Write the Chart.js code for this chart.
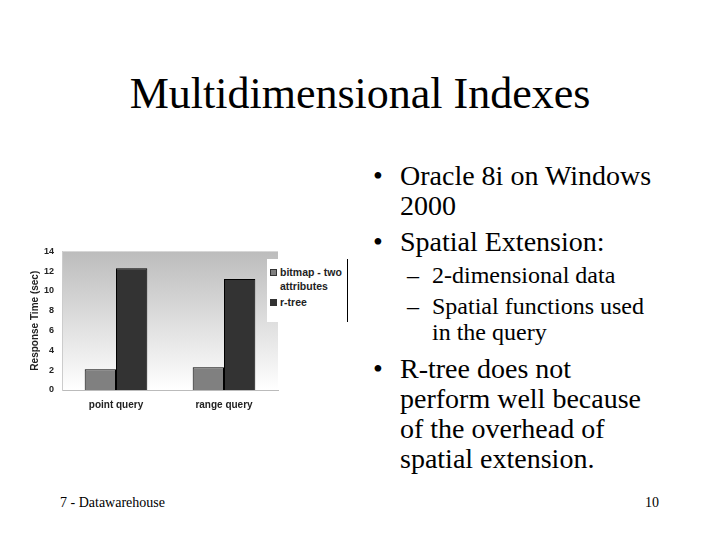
<!DOCTYPE html>
<html>
<head>
<meta charset="utf-8">
<script src="https://cdn.jsdelivr.net/npm/chart.js@4"></script>
<style>
  html, body { margin: 0; padding: 0; background: #fff; }
  #slide { position: relative; width: 720px; height: 540px; overflow: hidden; font-family: "Liberation Serif", "Times New Roman", serif; color: #000; }
  .t { position: absolute; white-space: nowrap; line-height: 1; }
  #title { left: 0; width: 720px; top: 72px; text-align: center; font-size: 44px; }
  .b1 { font-size: 28px; }
  .b2 { font-size: 24px; }
  .foot { font-size: 14px; top: 496px; }
  #chartBox { position: absolute; left: 20px; top: 238px; width: 265px; height: 182px; }
  #legend { position: absolute; left: 267px; top: 259px; width: 80px; height: 63px; background: #fff; border-right: 1px solid #000;
    font-family: "Liberation Sans", Arial, sans-serif; font-weight: bold; font-size: 10.5px; color: #222; }
  #legend .row { position: absolute; left: 3px; line-height: 14px; }
  #legend .sw { display: inline-block; width: 7px; height: 7px; border: 1px solid #333; margin-right: 3px; vertical-align: 0px; box-sizing: border-box; }
</style>
</head>
<body>
<div id="slide">
  <div class="t" id="title">Multidimensional Indexes</div>

  <div class="t b1" style="left:373px; top:162px;">•</div>
  <div class="t b1" style="left:400px; top:162px;">Oracle 8i on Windows</div>
  <div class="t b1" style="left:400px; top:192px;">2000</div>
  <div class="t b1" style="left:373px; top:228px;">•</div>
  <div class="t b1" style="left:400px; top:228px;">Spatial Extension:</div>
  <div class="t b2" style="left:407px; top:263px;">–</div>
  <div class="t b2" style="left:432px; top:263px;">2-dimensional data</div>
  <div class="t b2" style="left:407px; top:294px;">–</div>
  <div class="t b2" style="left:432px; top:294px;">Spatial functions used</div>
  <div class="t b2" style="left:432px; top:320px;">in the query</div>
  <div class="t b1" style="left:373px; top:355px;">•</div>
  <div class="t b1" style="left:400px; top:355px;">R-tree does not</div>
  <div class="t b1" style="left:400px; top:385px;">perform well because</div>
  <div class="t b1" style="left:400px; top:415px;">of the overhead of</div>
  <div class="t b1" style="left:400px; top:445px;">spatial extension.</div>

  <div class="t foot" style="left:60px;">7 - Datawarehouse</div>
  <div class="t foot" style="left:645px;">10</div>

  <div id="chartBox"><canvas id="chart" width="265" height="182"></canvas></div>
  <div id="legend"></div>
</div>

<script>
  var categories = ['point query', 'range query'];
  var seriesNames = ['bitmap - two attributes', 'r-tree'];
  var bitmapValues = [2.1, 2.3];
  var rtreeValues = [12.3, 11.2];
  var yTicks = [0, 2, 4, 6, 8, 10, 12, 14];
  var seriesColors = ['#808080', '#333333'];

  var bgPlugin = {
    id: 'plotBg',
    beforeDraw: function (chart) {
      var a = chart.chartArea;
      var ctx = chart.ctx;
      var g = ctx.createLinearGradient(0, a.top, 0, a.bottom);
      g.addColorStop(0, '#bcbcbc');
      g.addColorStop(1, '#ffffff');
      ctx.save();
      ctx.fillStyle = g;
      ctx.fillRect(a.left, a.top, a.right - a.left, a.bottom - a.top);
      ctx.restore();
    }
  };

  var tickFont = { family: 'Liberation Sans, Arial, sans-serif', size: 9, weight: 'bold' };
  var labelFont = { family: 'Liberation Sans, Arial, sans-serif', size: 10, weight: 'bold' };

  new Chart(document.getElementById('chart'), {
    type: 'bar',
    data: {
      labels: categories,
      datasets: [
        { label: seriesNames[0], data: bitmapValues, backgroundColor: seriesColors[0], borderColor: '#000', borderWidth: 1 },
        { label: seriesNames[1], data: rtreeValues, backgroundColor: seriesColors[1], borderColor: '#000', borderWidth: 1 }
      ]
    },
    options: {
      responsive: false,
      animation: false,
      layout: { padding: { top: 9, right: 7, left: 0, bottom: 0 } },
      plugins: { legend: { display: false }, tooltip: { enabled: false } },
      datasets: { bar: { barPercentage: 1, categoryPercentage: 0.58 } },
      scales: {
        x: {
          grid: { display: false, drawTicks: false },
          border: { display: true, color: '#bbb' },
          ticks: { font: labelFont, color: '#222', padding: 9 },
          afterFit: function (s) { s.height = 30; }
        },
        y: {
          min: 0,
          max: 14,
          afterBuildTicks: function (s) { s.ticks = yTicks.map(function (v) { return { value: v }; }); },
          grid: { display: false, drawTicks: false },
          border: { display: true, color: '#ccc' },
          ticks: { font: tickFont, color: '#222', padding: 8 },
          title: { display: true, text: 'Response Time (sec)', font: labelFont, color: '#222', padding: { top: 9, bottom: 0 } },
          afterFit: function (s) { s.width = 42; }
        }
      }
    },
    plugins: [bgPlugin]
  });

  var legend = document.getElementById('legend');
  var rows = [
    { top: 6, text: 'bitmap - two', color: seriesColors[0] },
    { top: 20, text: 'attributes', color: null },
    { top: 36, text: 'r-tree', color: seriesColors[1] }
  ];
  rows.forEach(function (r) {
    var row = document.createElement('div');
    row.className = 'row';
    row.style.top = r.top + 'px';
    if (r.color) {
      var sw = document.createElement('span');
      sw.className = 'sw';
      sw.style.background = r.color;
      row.appendChild(sw);
    } else {
      row.style.left = '13px';
    }
    row.appendChild(document.createTextNode(r.text));
    legend.appendChild(row);
  });
</script>
</body>
</html>
